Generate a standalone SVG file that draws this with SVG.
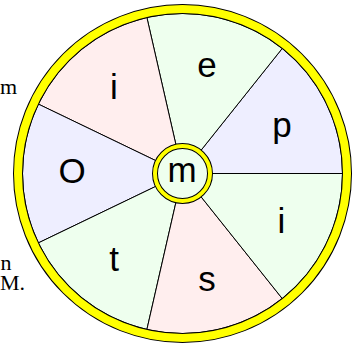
<svg xmlns="http://www.w3.org/2000/svg" width="361" height="345" viewBox="0 0 361 345">
<style>
.sec{stroke:#000;stroke-width:1}
.pink{fill:#FFEEEE}.green{fill:#EEFFEE}.lav{fill:#EEEEFF}
.lbl{font-family:"Liberation Sans",Arial,sans-serif;font-size:35px;fill:#000;text-anchor:middle}
.bg{font-family:"Liberation Serif","Times New Roman",serif;font-size:22px;fill:#000}
</style>
<rect width="361" height="345" fill="#fff"/>
<g id="background-text">
<text class="bg" x="0" y="94">m</text>
<text class="bg" x="0.5" y="270">n</text>
<text class="bg" x="0" y="290">M.</text>
</g>
<g id="sectors">
<g id="sector-p"><path class="sec lav" d="M182.5 173.5 L342.5 173.5 A160 160 0 0 0 282.26 48.41 Z"/><text class="lbl" x="282" y="137">p</text></g>
<g id="sector-e"><path class="sec green" d="M182.5 173.5 L282.26 48.41 A160 160 0 0 0 146.9 17.51 Z"/><text class="lbl" x="207" y="77">e</text></g>
<g id="sector-i1"><path class="sec pink" d="M182.5 173.5 L146.9 17.51 A160 160 0 0 0 38.34 104.08 Z"/><text class="lbl" x="114" y="98.5">i</text></g>
<g id="sector-O"><path class="sec lav" d="M182.5 173.5 L38.34 104.08 A160 160 0 0 0 38.34 242.92 Z"/><text class="lbl" x="72" y="183">O</text></g>
<g id="sector-t"><path class="sec green" d="M182.5 173.5 L38.34 242.92 A160 160 0 0 0 146.9 329.49 Z"/><text class="lbl" x="114" y="270.5">t</text></g>
<g id="sector-s"><path class="sec pink" d="M182.5 173.5 L146.9 329.49 A160 160 0 0 0 282.26 298.59 Z"/><text class="lbl" x="207" y="290.5">s</text></g>
<g id="sector-i2"><path class="sec green" d="M182.5 173.5 L282.26 298.59 A160 160 0 0 0 342.5 173.5 Z"/><text class="lbl" x="281.5" y="233">i</text></g>
</g>
<g id="rim">
<circle cx="182.5" cy="173.5" r="164.5" fill="none" stroke="#000" stroke-width="10"/>
<circle cx="182.5" cy="173.5" r="164.5" fill="none" stroke="#FFFF00" stroke-width="8"/>
</g>
<g id="hub">
<circle cx="182.5" cy="173.5" r="27.5" fill="#EEFFEE" stroke="#000" stroke-width="6"/>
<circle cx="182.5" cy="173.5" r="27.5" fill="none" stroke="#FFFF00" stroke-width="4"/>
<text class="lbl" x="182" y="181.5">m</text>
</g>
</svg>
